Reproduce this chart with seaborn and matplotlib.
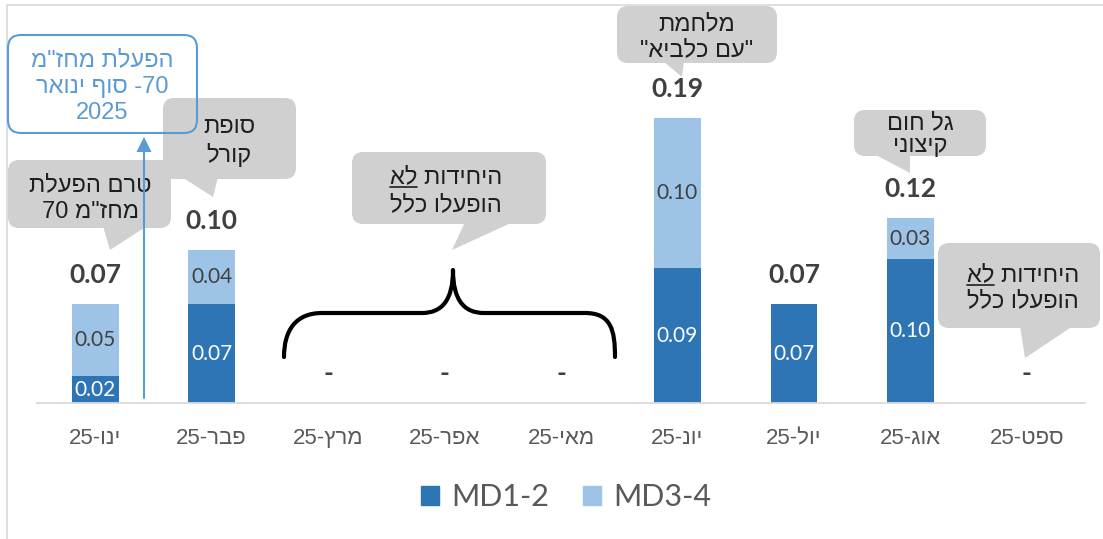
import re
import numpy as np
import pandas as pd
import seaborn as sns
import matplotlib
matplotlib.use("Agg")
import matplotlib.pyplot as plt
import matplotlib.transforms as mtransforms
from matplotlib.patches import FancyBboxPatch, Polygon, PathPatch, Patch
from matplotlib.path import Path
from matplotlib.lines import Line2D

# ---- data -------------------------------------------------------------
months = ["ינו-25", "פבר-25", "מרץ-25", "אפר-25", "מאי-25",
          "יונ-25", "יול-25", "אוג-25", "ספט-25"]
md12 = [0.018, 0.066, 0.0, 0.0, 0.0, 0.090, 0.066, 0.096, 0.0]
md34 = [0.048, 0.036, 0.0, 0.0, 0.0, 0.100, 0.0, 0.027, 0.0]
series_names = ["MD1-2", "MD3-4"]


def rtl(s):
    """Lay out a right-to-left line in display order (matplotlib has no bidi)."""
    r = s[::-1]
    return re.sub(r"[0-9A-Za-z.]+", lambda m: m.group(0)[::-1], r)


# ---- style ------------------------------------------------------------
sns.set_theme(style="white")
plt.rcParams["font.family"] = ["Liberation Sans", "DejaVu Sans"]
HEB = ["Liberation Sans", "DejaVu Sans"]
NUM = ["Lato", "DejaVu Sans"]

DARK = "#2E75B6"
LIGHT = "#9DC3E6"
LABEL_GRAY = "#404040"
AXIS_GRAY = "#D9D9D9"
BUBBLE = "#D0D0D0"
BLUE_NOTE = "#5B9BD5"

W, H, DPI = 1103, 539, 100
fig = plt.figure(figsize=(W / DPI, H / DPI), dpi=DPI)
fig.patch.set_facecolor("white")

# pixel helper (origin at top-left of the figure)
T = mtransforms.Affine2D().scale(1 / W, 1 / H) + fig.transFigure


def P(x, y):
    return (x, H - y)


ax = fig.add_axes([37 / W, (H - 403) / H, 1048 / W, 393 / H])

df = pd.DataFrame({"month": months, series_names[0]: md12, series_names[1]: md34})
df["total"] = df[series_names[0]] + df[series_names[1]]

# stacked bars: full total in the light colour, lower segment in dark on top
sns.barplot(data=df, x="month", y="total", order=months, color=LIGHT,
            saturation=1, width=0.4, linewidth=0, errorbar=None, ax=ax)
sns.barplot(data=df, x="month", y=series_names[0], order=months, color=DARK,
            saturation=1, width=0.4, linewidth=0, errorbar=None, ax=ax)

ax.set_xlim(-0.5, len(months) - 0.5)
ax.set_ylim(0, 393 / 1500)
ax.set_xlabel("")
ax.set_ylabel("")
ax.set_yticks([])
for s in ("left", "top", "right"):
    ax.spines[s].set_visible(False)
ax.spines["bottom"].set_color(AXIS_GRAY)
ax.spines["bottom"].set_linewidth(1.3)

ax.set_xticks(range(len(months)))
ax.set_xticklabels([rtl(m) for m in months], fontsize=16, color="#595959", family=HEB)
ax.tick_params(axis="x", which="major", length=0, pad=18)
ax.set_xticks(np.arange(-0.5, len(months), 1), minor=True)
ax.tick_params(axis="x", which="minor", length=5, width=1.3, color=AXIS_GRAY)

# segment and total labels
for i, row in df.iterrows():
    lo, hi, tot = row[series_names[0]], row[series_names[1]], row["total"]
    if lo > 0:
        ax.text(i, lo / 2, f"{lo:.2f}", ha="center", va="center",
                fontsize=15, color="white", family=NUM)
    if hi > 0:
        ax.text(i, lo + hi / 2, f"{hi:.2f}", ha="center", va="center",
                fontsize=15, color=LABEL_GRAY, family=NUM)
    ax.annotate(f"{tot:.2f}" if tot > 0 else "-", (i, tot), xytext=(0, 21),
                textcoords="offset points", ha="center", va="center",
                fontsize=19, fontweight="bold", color=LABEL_GRAY, family=NUM)

# legend
handles = [Patch(color=DARK, label=series_names[0]),
           Patch(color=LIGHT, label=series_names[1])]
fig.legend(handles=handles, loc="center", bbox_to_anchor=(566 / W, 1 - 497 / H),
           ncol=2, frameon=False, prop={"family": NUM, "size": 22},
           labelcolor="#595959", handlelength=0.6, handleheight=0.6,
           handletextpad=0.4, columnspacing=1.1)

# chart frame edges
fig.add_artist(Line2D([7 / W, 7 / W], [0, 1 - 5 / H], color=AXIS_GRAY, lw=1.2))
fig.add_artist(Line2D([7 / W, 1], [1 - 5 / H, 1 - 5 / H], color=AXIS_GRAY, lw=1.2))

# ---- callouts ---------------------------------------------------------
underlines = []


def bubble(box, tail, lines, cx, ys, underline=None):
    x0, y0, x1, y1 = box
    fig.add_artist(FancyBboxPatch(P(x0, y1), x1 - x0, y1 - y0,
                                  boxstyle="round,pad=0,rounding_size=11",
                                  transform=T, fc=BUBBLE, ec="none", zorder=3))
    fig.add_artist(Polygon([P(*p) for p in tail], closed=True, transform=T,
                           fc=BUBBLE, ec="none", zorder=3))
    for k, (s, y) in enumerate(zip(lines, ys)):
        t = fig.text(cx / W, 1 - y / H, rtl(s), ha="center", va="center",
                     fontsize=17, color="#1F1F1F", family=HEB, zorder=4)
        if underline is not None and k == 0:
            underlines.append((t, underline, y))


bubble((8, 160, 171, 228), [(103, 226), (147, 226), (110, 250)],
       ["טרם הפעלת", "מחז\"מ 70"], 90, [185, 212])
bubble((163, 98, 296, 179), [(182, 177), (218, 177), (213, 197)],
       ["סופת", "קורל"], 229, [127, 155])
bubble((352, 152, 546, 224), [(465, 222), (513, 222), (452, 250)],
       ["היחידות לא", "הופעלו כלל"], 446, [177, 205], underline="לא")
bubble((617, 6, 777, 63), [(663, 61), (684, 61), (682, 77)],
       ["מלחמת", "\"עם כלביא\""], 697, [24, 50])
bubble((854, 110, 986, 156), [(874, 154), (910, 154), (910, 173)],
       ["גל חום", "קיצוני"], 920, [123, 146])
bubble((938, 243, 1100, 328), [(1020, 326), (1073, 326), (1025, 358)],
       ["היחידות לא", "הופעלו כלל"], 1023, [275, 301], underline="לא")

# note box with arrow
fig.add_artist(FancyBboxPatch(P(8, 133), 189, 98,
                              boxstyle="round,pad=0,rounding_size=13",
                              transform=T, fc="none", ec=BLUE_NOTE, lw=1.5, zorder=5))
note_lines = ["הפעלת מחז\"מ", "70- סוף ינואר", "2025"]
for s, y in zip(note_lines, [60, 87, 113]):
    fig.text(102 / W, 1 - y / H, rtl(s), ha="center", va="center", fontsize=17,
             color=BLUE_NOTE, family=HEB, zorder=5)
fig.add_artist(Line2D([144 / W, 144 / W], [1 - 398 / H, 1 - 150 / H],
                      color=BLUE_NOTE, lw=1.5, zorder=6))
fig.add_artist(Polygon([P(136.5, 152), P(151.5, 152), P(144, 137)], closed=True,
                       transform=T, fc=BLUE_NOTE, ec="none", zorder=6))

# brace over the months without activity
verts = [P(284, 357), P(284, 330), P(296, 313), P(322, 313),
         P(422, 313),
         P(442, 313), P(453, 300), P(453, 270),
         P(453, 300), P(464, 313), P(484, 313),
         P(585, 313),
         P(611, 313), P(615, 330), P(615, 357)]
codes = [Path.MOVETO, Path.CURVE4, Path.CURVE4, Path.CURVE4,
         Path.LINETO,
         Path.CURVE4, Path.CURVE4, Path.CURVE4,
         Path.CURVE4, Path.CURVE4, Path.CURVE4,
         Path.LINETO,
         Path.CURVE4, Path.CURVE4, Path.CURVE4]
fig.add_artist(PathPatch(Path(verts, codes), transform=T, fc="none", ec="black",
                         lw=3, capstyle="round", joinstyle="round", zorder=4))

# underline the emphasised word (the last word of the line sits at its left end)
fig.canvas.draw()
renderer = fig.canvas.get_renderer()
for t, word, y in underlines:
    bb = t.get_window_extent(renderer)
    tmp = fig.text(0, 0, rtl(word), fontsize=17, family=HEB)
    w = tmp.get_window_extent(renderer).width
    tmp.remove()
    uy = 1 - (y + 10) / H
    fig.add_artist(Line2D([bb.x0 / W, (bb.x0 + w) / W], [uy, uy],
                          color="#1F1F1F", lw=1.2, zorder=4))

fig.savefig("out.png", dpi=DPI)
